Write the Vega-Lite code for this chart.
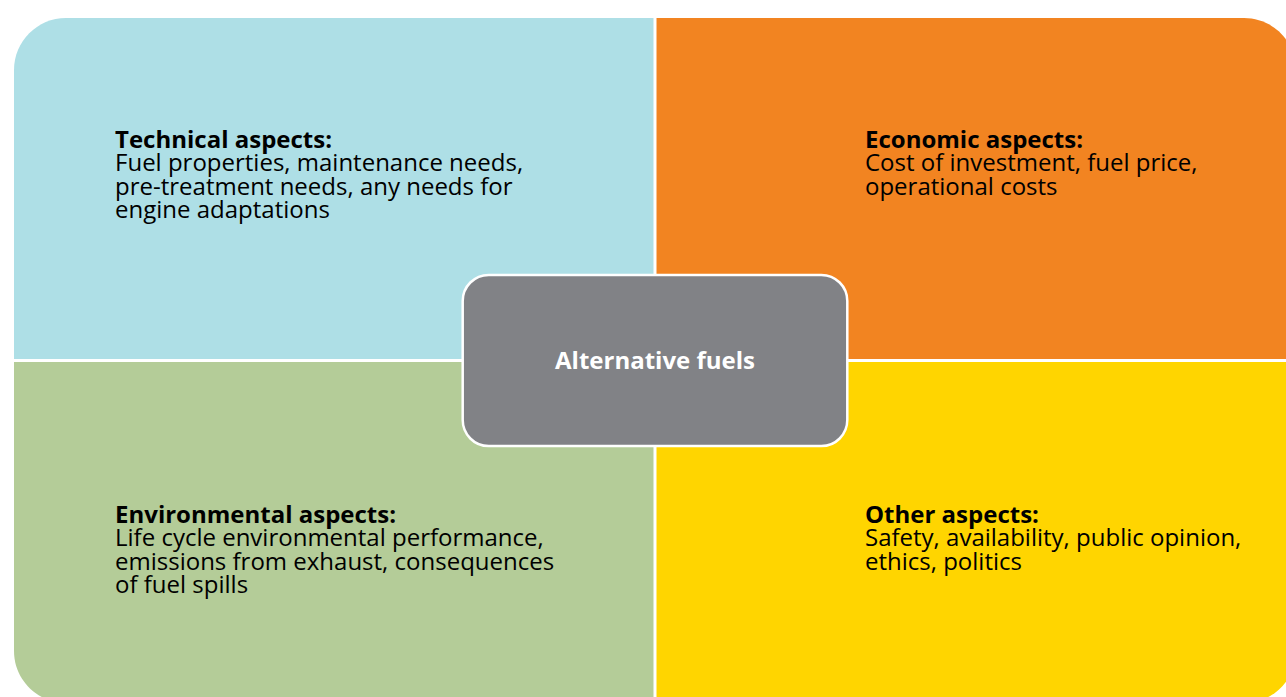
{
  "$schema": "https://vega.github.io/schema/vega-lite/v6.json",
  "autosize": {"type": "fit", "contains": "padding"},
  "width": 1286,
  "height": 697,
  "padding": 0,
  "background": "white",
  "config": {"view": {"stroke": null}, "axis": {"disable": true}, "font": "Open Sans"},
  "datasets": {
    "quads": [
      {"q": "Technical", "x0": 0, "x1": 1, "y0": 0, "y1": 1, "tx": 0.1576, "ty": 0.3795, "head": "Technical aspects:", "body": "Fuel properties, maintenance needs,\npre-treatment needs, any needs for\nengine adaptations"},
      {"q": "Economic", "x0": 1, "x1": 2, "y0": 0, "y1": 1, "tx": 1.3276, "ty": 0.3795, "head": "Economic aspects:", "body": "Cost of investment, fuel price,\noperational costs"},
      {"q": "Environmental", "x0": 0, "x1": 1, "y0": 1, "y1": 2, "tx": 0.1576, "ty": 1.4744, "head": "Environmental aspects:", "body": "Life cycle environmental performance,\nemissions from exhaust, consequences\nof fuel spills"},
      {"q": "Other", "x0": 1, "x1": 2, "y0": 1, "y1": 2, "tx": 1.3276, "ty": 1.4744, "head": "Other aspects:", "body": "Safety, availability, public opinion,\nethics, politics"}
    ],
    "center": [
      {"label": "Alternative fuels", "x0": 0.7, "x1": 1.3, "y0": 0.75, "y1": 1.25, "cx": 1, "cy": 1}
    ]
  },
  "data": {"name": "quads"},
  "layer": [
    {
      "transform": [{"filter": "datum.q === 'Technical'"}],
      "mark": {"type": "rect", "clip": true, "cornerRadiusTopLeft": 52},
      "encoding": {
        "x": {"field": "x0", "type": "quantitative", "scale": {"domain": [-0.021841, 1.984399], "nice": false, "zero": false}},
        "x2": {"field": "x1"},
        "y": {"field": "y0", "type": "quantitative", "scale": {"domain": [-0.052555, 1.982482], "reverse": true, "nice": false, "zero": false}},
        "y2": {"field": "y1"},
        "color": {"field": "q", "type": "nominal", "legend": null, "scale": {"domain": ["Technical", "Economic", "Environmental", "Other"], "range": ["#aedfe6", "#f28421", "#b4cc98", "#ffd500"]}}
      }
    },
    {
      "transform": [{"filter": "datum.q === 'Economic'"}],
      "mark": {"type": "rect", "clip": true, "cornerRadiusTopRight": 52},
      "encoding": {
        "x": {"field": "x0", "type": "quantitative", "scale": {"domain": [-0.021841, 1.984399], "nice": false, "zero": false}},
        "x2": {"field": "x1"},
        "y": {"field": "y0", "type": "quantitative", "scale": {"domain": [-0.052555, 1.982482], "reverse": true, "nice": false, "zero": false}},
        "y2": {"field": "y1"},
        "color": {"field": "q", "type": "nominal", "legend": null}
      }
    },
    {
      "transform": [{"filter": "datum.q === 'Environmental'"}],
      "mark": {"type": "rect", "clip": true, "cornerRadiusBottomLeft": 52},
      "encoding": {
        "x": {"field": "x0", "type": "quantitative", "scale": {"domain": [-0.021841, 1.984399], "nice": false, "zero": false}},
        "x2": {"field": "x1"},
        "y": {"field": "y0", "type": "quantitative", "scale": {"domain": [-0.052555, 1.982482], "reverse": true, "nice": false, "zero": false}},
        "y2": {"field": "y1"},
        "color": {"field": "q", "type": "nominal", "legend": null}
      }
    },
    {
      "transform": [{"filter": "datum.q === 'Other'"}],
      "mark": {"type": "rect", "clip": true, "cornerRadiusBottomRight": 52},
      "encoding": {
        "x": {"field": "x0", "type": "quantitative", "scale": {"domain": [-0.021841, 1.984399], "nice": false, "zero": false}},
        "x2": {"field": "x1"},
        "y": {"field": "y0", "type": "quantitative", "scale": {"domain": [-0.052555, 1.982482], "reverse": true, "nice": false, "zero": false}},
        "y2": {"field": "y1"},
        "color": {"field": "q", "type": "nominal", "legend": null}
      }
    },
    {
      "data": {"values": [{"v": 1}]},
      "mark": {"type": "rule", "color": "white", "strokeWidth": 3, "clip": true},
      "encoding": {
        "x": {"field": "v", "type": "quantitative", "scale": {"domain": [-0.021841, 1.984399], "nice": false, "zero": false}}
      }
    },
    {
      "data": {"values": [{"v": 1}]},
      "mark": {"type": "rule", "color": "white", "strokeWidth": 3, "clip": true},
      "encoding": {
        "y": {"field": "v", "type": "quantitative", "scale": {"domain": [-0.052555, 1.982482], "reverse": true, "nice": false, "zero": false}}
      }
    },
    {
      "mark": {"type": "text", "align": "left", "baseline": "alphabetic", "font": "Open Sans", "fontWeight": "bold", "fontSize": 24, "color": "#000000"},
      "encoding": {
        "x": {"field": "tx", "type": "quantitative", "scale": {"domain": [-0.021841, 1.984399], "nice": false, "zero": false}},
        "y": {"field": "ty", "type": "quantitative", "scale": {"domain": [-0.052555, 1.982482], "reverse": true, "nice": false, "zero": false}},
        "text": {"field": "head"}
      }
    },
    {
      "mark": {"type": "text", "align": "left", "baseline": "alphabetic", "font": "Open Sans", "fontSize": 24, "lineBreak": "\n", "lineHeight": 23.5, "dy": 23.5, "color": "#000000"},
      "encoding": {
        "x": {"field": "tx", "type": "quantitative", "scale": {"domain": [-0.021841, 1.984399], "nice": false, "zero": false}},
        "y": {"field": "ty", "type": "quantitative", "scale": {"domain": [-0.052555, 1.982482], "reverse": true, "nice": false, "zero": false}},
        "text": {"field": "body"}
      }
    },
    {
      "data": {"name": "center"},
      "mark": {"type": "rect", "cornerRadius": 26, "fill": "#818286", "stroke": "white", "strokeWidth": 2.5},
      "encoding": {
        "x": {"field": "x0", "type": "quantitative", "scale": {"domain": [-0.021841, 1.984399], "nice": false, "zero": false}},
        "x2": {"field": "x1"},
        "y": {"field": "y0", "type": "quantitative", "scale": {"domain": [-0.052555, 1.982482], "reverse": true, "nice": false, "zero": false}},
        "y2": {"field": "y1"}
      }
    },
    {
      "data": {"name": "center"},
      "mark": {"type": "text", "align": "center", "baseline": "alphabetic", "dy": 8, "font": "Open Sans", "fontWeight": "bold", "fontSize": 24, "color": "white"},
      "encoding": {
        "x": {"field": "cx", "type": "quantitative", "scale": {"domain": [-0.021841, 1.984399], "nice": false, "zero": false}},
        "y": {"field": "cy", "type": "quantitative", "scale": {"domain": [-0.052555, 1.982482], "reverse": true, "nice": false, "zero": false}},
        "text": {"field": "label"}
      }
    }
  ]
}
